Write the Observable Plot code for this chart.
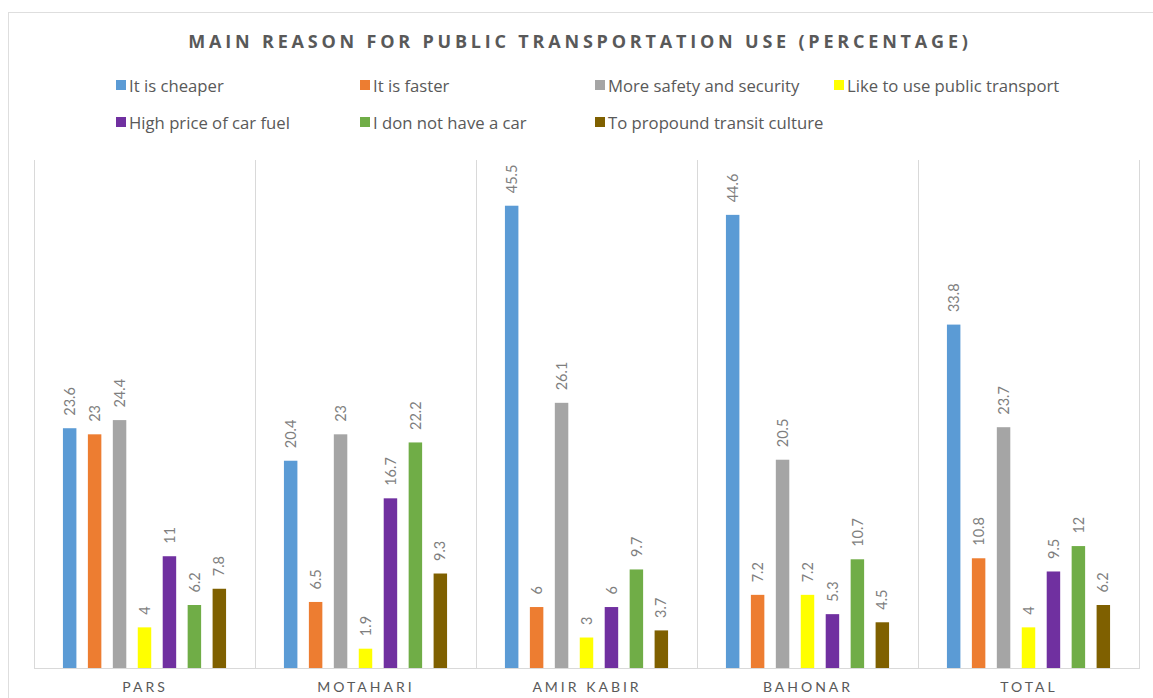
<!DOCTYPE html>
<html><head><meta charset="utf-8">
<script src="https://cdn.jsdelivr.net/npm/d3@7"></script>
<script src="https://cdn.jsdelivr.net/npm/@observablehq/plot@0.6"></script>
<style>
body{margin:0;background:#fff;font-family:Lato,"Open Sans",sans-serif;overflow:hidden}
#frame{position:absolute;left:8px;top:12px;width:1150px;height:700px;border:1px solid #dedede;border-right:none;border-bottom:none;}
#title{position:absolute;top:29px;left:0;width:1160px;text-align:center;font:bold 18px "Open Sans";letter-spacing:3.8px;color:#595959}
#legend{position:absolute;left:116px;top:74px;display:grid;grid-template-columns:244px 235px 239px 240px;row-gap:15px}
.item{display:flex;align-items:center;font-size:16.7px;font-family:"Open Sans",sans-serif;color:#595959;height:22px;white-space:nowrap}
.sw{width:10px;height:10px;margin-right:3px;flex:none}
#chart{position:absolute;left:0;top:150px}
#chart [aria-label="fx-axis tick label"] text{letter-spacing:3px}
</style>
</head><body>
<div id="frame"></div>
<div id="title">MAIN REASON FOR PUBLIC TRANSPORTATION USE (PERCENTAGE)</div>
<div id="legend"></div>
<div id="chart"></div>
<script>
const categories = ["PARS", "MOTAHARI", "AMIR KABIR", "BAHONAR", "TOTAL"];
const series = ["It is cheaper", "It is faster", "More safety and security", "Like to use public transport",
  "High price of car fuel", "I don not have a car", "To propound transit culture"];
const colors = ["#5B9BD5", "#ED7D31", "#A5A5A5", "#FFFF00", "#7030A0", "#70AD47", "#7F6000"];

const cheaper   = [23.6, 20.4, 45.5, 44.6, 33.8];
const faster    = [23, 6.5, 6, 7.2, 10.8];
const safety    = [24.4, 23, 26.1, 20.5, 23.7];
const likeUse   = [4, 1.9, 3, 7.2, 4];
const fuelPrice = [11, 16.7, 6, 5.3, 9.5];
const noCar     = [6.2, 22.2, 9.7, 10.7, 12];
const culture   = [7.8, 9.3, 3.7, 4.5, 6.2];
const seriesValues = [cheaper, faster, safety, likeUse, fuelPrice, noCar, culture];

const data = [];
categories.forEach((g, gi) => series.forEach((s, si) => data.push({group: g, series: s, value: seriesValues[si][gi]})));

// legend
const legend = document.getElementById("legend");
series.forEach((s, i) => {
  const it = document.createElement("div");
  it.className = "item";
  it.innerHTML = `<span class="sw" style="background:${colors[i]}"></span><span>${s}</span>`;
  legend.appendChild(it);
});

const chart = Plot.plot({
  width: 1153,
  height: 548,
  marginTop: 10,
  marginBottom: 30,
  marginLeft: 33,
  marginRight: 13,
  style: {fontFamily: "Lato, 'Open Sans', sans-serif", background: "transparent"},
  fx: {domain: categories, padding: 0, label: null},
  x: {domain: series, paddingInner: 0.46, paddingOuter: 1.16, round: false, axis: null},
  y: {domain: [0, 50], axis: null},
  color: {domain: series, range: colors},
  marks: [
    Plot.frame({anchor: "left", stroke: "#d9d9d9"}),
    Plot.frame({anchor: "right", stroke: "#d9d9d9"}),
    Plot.ruleY([0], {stroke: "#d9d9d9"}),
    Plot.barY(data, {fx: "group", x: "series", y: "value", fill: "series"}),
    Plot.text(data, {fx: "group", x: "series", y: "value", text: d => String(d.value),
      rotate: -90, textAnchor: "start", dy: -13, fill: "#7f7f7f", fontSize: 14.5}),
    Plot.axisFx({anchor: "bottom", tickSize: 0, tickPadding: 14, fontSize: 14, fill: "#595959", label: null})
  ]
});
document.getElementById("chart").appendChild(chart);
</script>
</body></html>
